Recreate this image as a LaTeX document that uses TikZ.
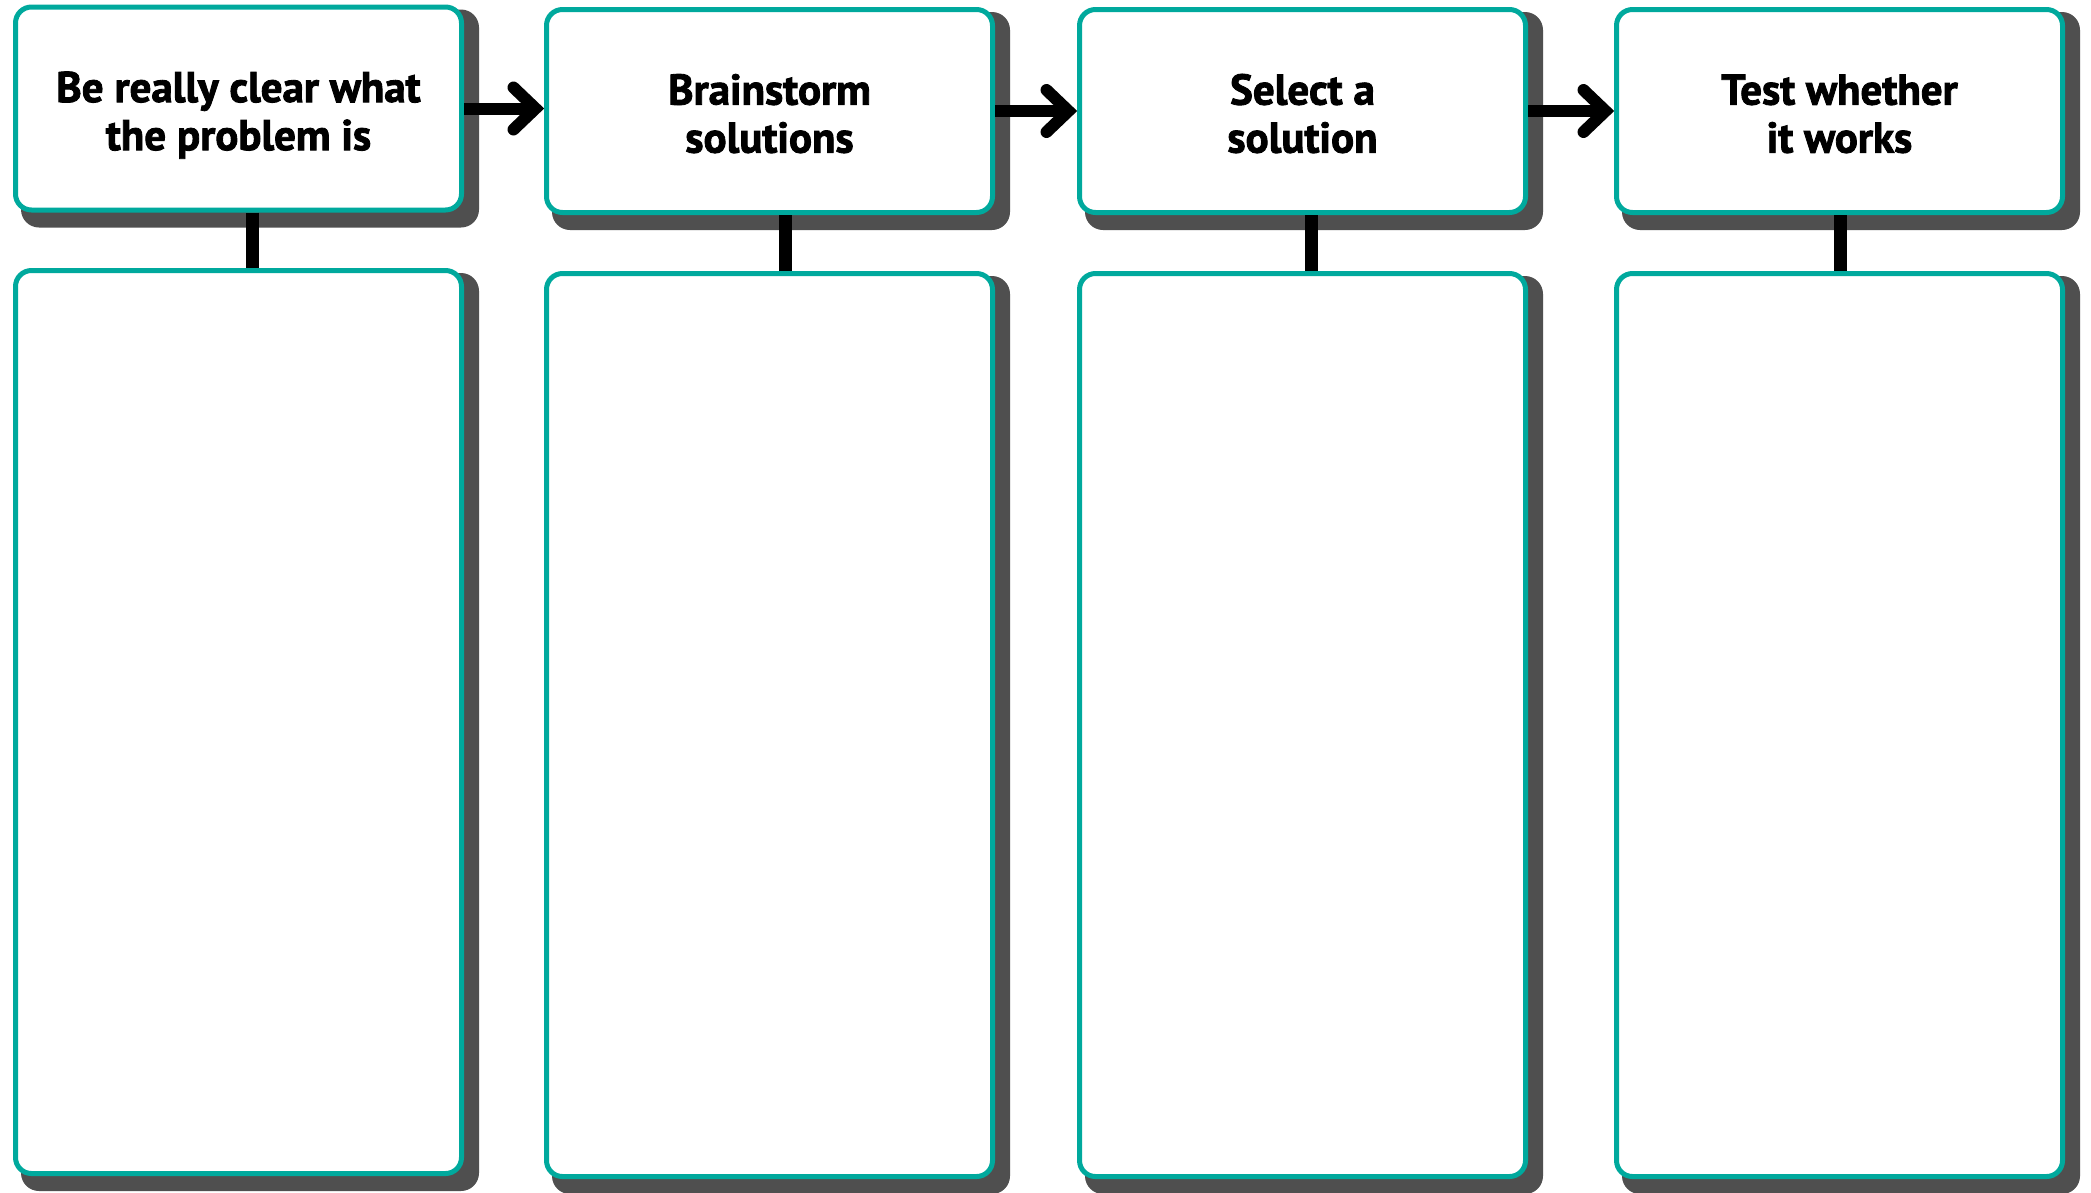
\documentclass[tikz,border=0pt]{standalone}
\usepackage{fontspec}
\setmainfont{PT Sans}
\newfontfamily\labelfont{PT Sans Bold}[FakeBold=2]
\usetikzlibrary{calc,backgrounds}
\definecolor{boxteal}{HTML}{00A99D}
\definecolor{shadowgrey}{HTML}{4F4F4F}
\begin{document}
\begin{tikzpicture}[x=1pt,y=-1pt,
  box/.style={draw=boxteal, line width=5pt, fill=white, rounded corners=16pt,
    inner sep=0pt, minimum width=446pt},
  topbox/.style={box, minimum height=203pt},
  lowbox/.style={box, minimum height=903pt},
  boxtext/.style={inner sep=0pt, align=center,
    font=\fontsize{43}{48}\selectfont\labelfont},
  link/.style={line width=13pt, line cap=butt},
  shaft/.style={line width=12pt, line cap=butt},
  head/.style={line width=12pt, line cap=round, line join=miter},
  shade/.style={fill=shadowgrey, rounded corners=18pt}]
\useasboundingbox (0,0) rectangle (2091,1192);

\node[topbox] (t1) at (238.5,108.5) {};
\node[topbox] (t2) at (769.5,111) {};
\node[topbox] (t3) at (1302.5,111) {};
\node[topbox] (t4) at (1839.5,111) {};
\node[lowbox] (b1) at (238.5,722) {};
\node[lowbox] (b2) at (769.5,725) {};
\node[lowbox] (b3) at (1302.5,725) {};
\node[lowbox] (b4) at (1839.5,725) {};

\node[boxtext] (l1) at ($(t1.center)+(0,8)$) {\strut Be really clear what\\the problem is\strut};
\node[boxtext] (l2) at ($(t2.center)+(0,8)$) {\strut Brainstorm\\solutions\strut};
\node[boxtext] (l3) at ($(t3.center)+(0,8)$) {\strut Select a\\solution\strut};
\node[boxtext] (l4) at ($(t4.center)+(0,8)$) {\strut Test whether\\it works\strut};

\begin{scope}[on background layer]
  \fill[white] (0,0) rectangle (2091,1192);
  \foreach \n in {t1,t2,t3,t4,b1,b2,b3,b4}
    \fill[shade] ($(\n.north west)+(8,5)$) rectangle ($(\n.south east)+(15,15)$);
\end{scope}

\foreach \a/\b in {t1/t2,t2/t3,t3/t4}{
  \coordinate (tip\b) at (\a.east -| \b.west);
  \draw[shaft] (\a.east) -- ($(tip\b)+(-8.5,0)$);
  \draw[head] ($(tip\b)+(-30.5,-21)$) -- ($(tip\b)+(-8.5,0)$) -- ($(tip\b)+(-30.5,21)$);
}

\foreach \a/\b/\dx in {t1/b1/14,t2/b2/15.5,t3/b3/9,t4/b4/1}{
  \coordinate (c\a) at ($(\a.south)+(\dx,0)$);
  \draw[link] (c\a) -- (c\a |- \b.north);
}
\end{tikzpicture}
\end{document}
